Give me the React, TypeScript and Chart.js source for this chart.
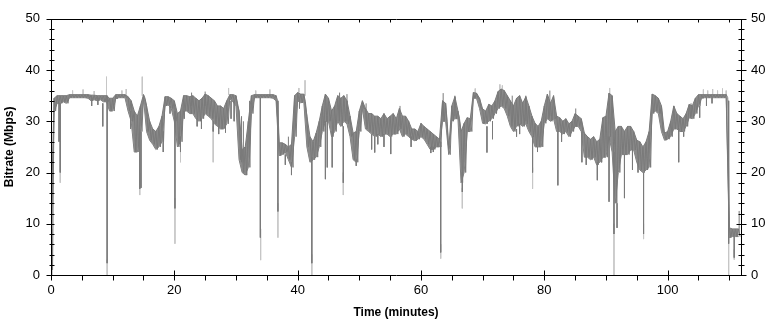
import { useEffect, useRef } from 'react';
import { Chart, registerables } from 'chart.js';

Chart.register(...registerables);

// Bitrate: dense band (upper / lower edge) per half-minute slice.
const SLICE_MINUTES = 0.5;

const bandHigh = [
  // 0 - 4.5
  10, 34.5, 35, 35, 35, 35, 35.2, 35.2, 35.2, 35.2,
  // 5 - 9.5
  35.2, 35.2, 35.2, 35.1, 35.1, 35, 35, 35, 35, 34.5,
  // 10 - 14.5
  34.5, 35.2, 35.2, 35.2, 35.2, 34.8, 34, 32, 31, 33,
  // 15 - 19.5
  35.2, 33, 30, 28.5, 28, 29, 31, 34.8, 34.8, 34.5,
  // 20 - 24.5
  34, 31.5, 32, 35, 35, 34.8, 35, 34.5, 34, 34.5,
  // 25 - 29.5
  35.3, 35, 34.5, 34, 33, 33, 32.5, 34, 35.2, 35.2,
  // 30 - 34.5
  35, 32, 24.5, 25, 30, 35, 35.2, 35.2, 35.2, 35.2,
  // 35 - 39.5
  35.2, 35.2, 35.2, 35, 25.8, 25.8, 25.5, 25, 25.5, 35,
  // 40 - 44.5
  35.6, 35.3, 35.3, 31, 27, 26, 27.7, 30, 33, 35.3,
  // 45 - 49.5
  34.5, 32, 33, 35, 34.5, 35, 34, 31, 27.7, 28,
  // 50 - 54.5
  32, 34, 32.5, 31.5, 31.5, 31, 31, 30.5, 31.5, 30.5,
  // 55 - 59.5
  31, 31.5, 30.5, 32.5, 31, 31, 30, 28.5, 28.5, 28,
  // 60 - 64.5
  29.6, 29, 28.5, 28, 27.5, 27, 26.5, 34, 33.5, 24.5,
  // 65 - 69.5
  33, 34.8, 32, 28, 29.6, 30.7, 30.5, 35.6, 35.5, 34.5,
  // 70 - 74.5
  32.4, 32, 33.3, 33, 34, 35.8, 36.3, 36, 35, 34,
  // 75 - 79.5
  33, 34.5, 35, 33.5, 34.8, 33, 31, 29.6, 29, 30,
  // 80 - 84.5
  33, 35.3, 33.5, 35, 31, 30.7, 30, 30.5, 29.5, 30,
  // 85 - 89.5
  31.5, 31, 30.5, 27.7, 27, 26.5, 27, 26, 26.5, 30.7,
  // 90 - 94.5
  31, 35.5, 35, 28, 29, 29, 28, 29, 29, 28,
  // 95 - 99.5
  26.3, 26, 25, 26, 28, 35.3, 35, 34.5, 33, 27.7,
  // 100 - 104.5
  28, 30, 33, 31.5, 31, 30.5, 31.5, 33.3, 33, 34.5,
  // 105 - 109.5
  35.2, 35.2, 35.2, 35.2, 35.2, 35.2, 35.2, 35.2, 35.2, 35.2,
  // 110 - 111.5
  9.2, 9, 9, 9,
];

const bandLow = [
  // 0 - 4.5
  1, 32, 33.5, 33.5, 33.8, 33.5, 34.6, 34.6, 34.6, 34.6,
  // 5 - 9.5
  34.6, 34.6, 34.5, 34, 34.2, 34, 34.2, 33.8, 33.8, 32,
  // 10 - 14.5
  32, 34.4, 34.6, 34.6, 34.6, 32, 30, 24, 24, 28,
  // 15 - 19.5
  34.5, 28, 26.3, 25.5, 24.5, 25, 26, 33, 33.2, 32.5,
  // 20 - 24.5
  30, 25, 26, 32, 32, 31.5, 31.5, 30.5, 30, 30.5,
  // 25 - 29.5
  31.5, 31, 30.5, 29.5, 29, 28.5, 28.5, 29.5, 34.4, 33.8,
  // 30 - 34.5
  33, 22.5, 20, 19.5, 21, 31.5, 34.6, 34.6, 34.6, 34.6,
  // 35 - 39.5
  34.6, 34.6, 34.5, 34, 23.3, 23.5, 24, 22.5, 21, 27,
  // 40 - 44.5
  34, 33.6, 33.8, 25, 22, 22.5, 23, 25, 28, 30,
  // 45 - 49.5
  30, 27, 28, 30, 29, 30, 29.5, 27, 22.5, 22,
  // 50 - 54.5
  28, 32.5, 28.5, 28, 27.5, 27, 27.5, 27, 27.5, 27.5,
  // 55 - 59.5
  27, 27.5, 27.5, 28.5, 27, 27.5, 27, 26.5, 26.2, 26.5,
  // 60 - 64.5
  27, 26.5, 25.5, 24.5, 24.5, 25, 25, 30, 30, 23.5,
  // 65 - 69.5
  30, 30.5, 30.5, 18, 20, 28, 28, 34.5, 34.5, 32.5,
  // 70 - 74.5
  29.6, 29.5, 30, 30.5, 31.5, 32.5, 33, 32.5, 31, 29,
  // 75 - 79.5
  28, 29, 29.5, 29, 29.5, 28, 27, 25, 25, 25,
  // 80 - 84.5
  29.6, 30.5, 30, 30.5, 28, 28, 27.5, 28, 27, 28,
  // 85 - 89.5
  29, 29, 28, 23, 23, 22.5, 23, 21.5, 22, 23,
  // 90 - 94.5
  23, 27, 24, 14, 20, 23.5, 23.5, 23.5, 24.4, 24.4,
  // 95 - 99.5
  22, 20.5, 20, 20.5, 21, 31.5, 32, 31.5, 28, 26.3,
  // 100 - 104.5
  26.5, 27, 28.5, 28.5, 28, 28, 29, 30.7, 30.5, 31.5,
  // 105 - 109.5
  33, 34.5, 34.6, 34.6, 34.6, 34.6, 34.6, 34.6, 34.6, 34.6,
  // 110 - 111.5
  7.3, 7.5, 7.5, 7.5,
];

// Narrow dark excursions out of the band: minute, from (Mbps), to (Mbps)
const spikeMinutes = [
  1.3, 1.5, 6.6, 7.6, 8.4, 9.1, 12.9, 14.4, 14.6, 18.2, 19.3, 20.1, 21.0, 21.6, 22.8, 23.7, 24.4, 25.0, 26.3, 27.2,
  28.3, 29.2, 29.7, 30.9, 31.2, 31.7, 32.2, 33.95, 36.8, 38.0, 38.5, 39.0, 40.3, 42.3, 44.5, 44.8, 45.6, 46.8, 47.4, 48.0,
  49.5, 51.1, 52.0, 52.5, 53.0, 54.0, 55.1, 56.6, 58.4, 61.6, 62.0, 63.2, 63.6, 65.5, 66.7, 70.7, 71.6, 74.8, 75.5, 76.0,
  77.0, 78.1, 78.9, 80.9, 82.2, 82.8, 85.1, 86.1, 86.8, 88.6, 89.3, 90.5, 91.3, 91.8, 93.0, 94.3, 95.2, 96.1, 101.8, 102.6,
  103.8, 105.2, 106.3, 107.2, 109.9, 110.8, 111.6,
];
const spikeFrom = [
  33.5, 33.5, 34.6, 34.6, 33.5, 35, 32, 28, 28, 28, 33, 32, 27, 32, 33, 30.5, 30.5, 33, 30, 29,
  29, 34, 34, 22, 22, 21, 25, 34.6, 34, 23.5, 24.5, 22, 34, 23, 30, 31, 28, 31, 29, 30,
  22.5, 30, 27.5, 27, 27.5, 27.5, 27, 29, 27, 25, 25, 26, 31, 31, 20, 29, 30, 30, 28.5, 29.5,
  30, 27, 25, 31, 28, 28, 29, 28, 23, 22, 23, 27, 24, 14, 23.5, 24.4, 22, 20, 28.5, 28,
  31, 33, 34.6, 34.6, 34, 7.5, 8,
];
const spikeTo = [
  26, 20, 33, 33.2, 29, 2.3, 28.5, 16.8, 17, 24, 31.5, 13, 24, 30.5, 35.6, 29, 28.5, 35.8, 28, 27.5,
  27.8, 30.5, 30, 31, 30, 19.5, 34, 7.3, 12.4, 21.5, 27, 19.5, 32.5, 2.3, 18.7, 21, 21, 35.6, 18, 35.3,
  21.3, 33.5, 24.5, 23.9, 25.5, 25, 23.6, 33, 25, 23.8, 24, 4.4, 35.5, 35, 16.2, 23.9, 26.5, 35, 27, 27.5,
  35, 20, 24, 36, 17.5, 26, 32.5, 22, 21.5, 18.5, 22, 14.3, 8, 9.2, 15, 20.5, 20, 8, 22, 27,
  33.5, 30.7, 33, 33.5, 6.1, 3.4, 12.5,
];

// Light grey peak traces: minute, top (Mbps), bottom (Mbps)
const peakMinutes = [
  0.2, 1.5, 3.5, 5.2, 7.0, 9.0, 9.1, 11.5, 12.2, 14.4, 14.8, 20.1, 21.0, 26.3, 28.8, 33.2, 34.0, 35.5, 36.8, 40.2,
  41.2, 42.3, 47.4, 63.2, 66.7, 68.8, 72.8, 73.2, 78.1, 90.6, 91.3, 96.1, 105.8, 106.5, 107.3, 108.1, 108.9, 109.5, 109.9, 110.8,
];
const peakTop = [
  9, 26, 36, 36.2, 35.9, 38.7, 3, 36, 36.3, 20, 38.7, 15, 26, 29, 36.5, 36, 9, 36.2, 14, 36.5,
  38.0, 4, 20, 6, 17, 36.4, 37.2, 37, 21, 36.5, 10, 10, 36.2, 36, 36.3, 36, 36.4, 36, 8, 5,
];
const peakBottom = [
  0, 18, 35.2, 35.2, 35.2, 35, 0, 35.2, 35.2, 15.6, 35, 6.1, 22, 22, 35.2, 35.2, 2.9, 35.2, 7.3, 35.6,
  35, 0, 15.6, 3.2, 13, 35.6, 35.5, 36.3, 16.8, 35, 0, 7, 35.2, 35.2, 35.2, 35.2, 35.2, 35.2, 0, 3,
];

const X_TICKS = [0, 20, 40, 60, 80, 100];
const X_MAX = 111.9;
const Y_MIN = 0;
const Y_MAX = 50;
const Y_STEP = 10;
const X_MINOR_STEP = 5;
const Y_MINOR_STEP = 2;

const FONT = '"Liberation Sans", Arial, sans-serif';
const DARK = '#7a7a7a';
const BAND = '#8a8a8a';
const LIGHT = '#c6c6c6';

const framePlugin = {
  id: 'frameTicks',
  afterDatasetsDraw(chart: any) {
    const { ctx, chartArea, scales } = chart;
    const xs = scales.x;
    const ys = scales.y;
    const L = Math.round(chartArea.left) + 0.5;
    const R = Math.round(chartArea.right) + 0.5;
    const T = Math.round(chartArea.top) + 0.5;
    const B = Math.round(chartArea.bottom) + 0.5;
    ctx.save();
    ctx.strokeStyle = '#000';
    ctx.lineWidth = 1;
    ctx.beginPath();
    ctx.moveTo(L, T);
    ctx.lineTo(R, T);
    ctx.lineTo(R, B);
    ctx.lineTo(L, B);
    ctx.closePath();
    for (let v = 0; v <= X_MAX; v += X_MINOR_STEP) {
      const px = Math.round(xs.getPixelForValue(v)) + 0.5;
      const major = X_TICKS.includes(v);
      ctx.moveTo(px, major ? B - 5 : B);
      ctx.lineTo(px, B + 5);
      ctx.moveTo(px, T);
      ctx.lineTo(px, T + 3);
    }
    for (let v = Y_MIN; v <= Y_MAX; v += Y_MINOR_STEP) {
      const py = Math.round(ys.getPixelForValue(v)) + 0.5;
      const major = v % Y_STEP === 0;
      ctx.moveTo(L - (major ? 5 : 2), py);
      ctx.lineTo(L + 3, py);
      ctx.moveTo(R - (major ? 5 : 3), py);
      ctx.lineTo(R + (major ? 5 : 3), py);
    }
    ctx.stroke();
    ctx.restore();
  },
};

function segments(minutes: number[], a: number[], b: number[]) {
  const pts: { x: number; y: number | null }[] = [];
  minutes.forEach((t, i) => {
    pts.push({ x: t, y: a[i] }, { x: t, y: b[i] }, { x: t, y: null });
  });
  return pts;
}

export default function App() {
  const canvasRef = useRef<HTMLCanvasElement | null>(null);

  useEffect(() => {
    const highPoints = bandHigh.map((v, i) => ({ x: i * SLICE_MINUTES, y: v }));
    const lowPoints = bandLow.map((v, i) => ({ x: i * SLICE_MINUTES, y: v }));
    // the trace itself swings between the band's upper and lower edge
    const tracePoints: { x: number; y: number }[] = [];
    bandHigh.forEach((v, i) => {
      tracePoints.push({ x: i * SLICE_MINUTES, y: v }, { x: i * SLICE_MINUTES + SLICE_MINUTES / 2, y: bandLow[i] });
    });
    const spikePoints = segments(spikeMinutes, spikeFrom, spikeTo);
    const peakPoints = segments(peakMinutes, peakTop, peakBottom);

    const tickFont = { family: FONT, size: 13 };
    const titleFont = { family: FONT, size: 12, weight: 'bold' as const };

    const line = { borderWidth: 1, pointRadius: 0, tension: 0 };

    const chart = new Chart(canvasRef.current as HTMLCanvasElement, {
      type: 'line',
      data: {
        datasets: [
          { ...line, label: 'Bitrate (high)', data: highPoints as any, borderColor: DARK, backgroundColor: BAND, fill: '+1', order: 2 },
          { ...line, label: 'Bitrate (low)', data: lowPoints as any, borderColor: DARK, fill: false, order: 3 },
          { ...line, label: 'Bitrate', data: tracePoints as any, borderColor: DARK, fill: false, order: 1 },
          { ...line, label: 'Bitrate spikes', data: spikePoints as any, borderColor: DARK, fill: false, spanGaps: false, order: 0 },
          { ...line, label: 'Peak', data: peakPoints as any, borderColor: LIGHT, fill: false, spanGaps: false, order: 4 },
        ],
      },
      options: {
        responsive: false,
        animation: false,
        devicePixelRatio: 1,
        layout: { padding: { top: 13, left: 0, right: 0, bottom: 0 } },
        plugins: { legend: { display: false }, tooltip: { enabled: false } },
        scales: {
          x: {
            type: 'linear',
            position: 'bottom',
            min: 0,
            max: X_MAX,
            grid: { display: false, drawTicks: false },
            border: { display: false },
            ticks: { color: '#000', font: tickFont, padding: 8, maxRotation: 0, autoSkip: false },
            afterBuildTicks: (s: any) => {
              s.ticks = X_TICKS.map((v) => ({ value: v }));
            },
            afterFit: (s: any) => {
              s.height = 49;
            },
            title: {
              display: true,
              text: 'Time (minutes)',
              color: '#000',
              font: titleFont,
              padding: { top: 0, bottom: 4 },
            },
          },
          y: {
            type: 'linear',
            position: 'left',
            min: Y_MIN,
            max: Y_MAX,
            grid: { display: false, drawTicks: false },
            border: { display: false },
            ticks: { color: '#000', font: tickFont, padding: 11, stepSize: Y_STEP },
            afterFit: (s: any) => {
              s.width = 51;
            },
            title: {
              display: true,
              text: 'Bitrate (Mbps)',
              color: '#000',
              font: titleFont,
              padding: { top: 2, bottom: 0 },
            },
          },
          y2: {
            type: 'linear',
            position: 'right',
            min: Y_MIN,
            max: Y_MAX,
            grid: { display: false, drawTicks: false },
            border: { display: false },
            ticks: { color: '#000', font: tickFont, padding: 10, stepSize: Y_STEP },
            afterFit: (s: any) => {
              s.width = 31;
            },
          },
        },
      },
      plugins: [framePlugin],
    });
    return () => chart.destroy();
  }, []);

  return (
    <div style={{ position: 'fixed', left: 0, top: 0, width: 772, height: 324, background: '#fff' }}>
      <canvas ref={canvasRef} width={772} height={324} style={{ display: 'block' }} />
    </div>
  );
}
